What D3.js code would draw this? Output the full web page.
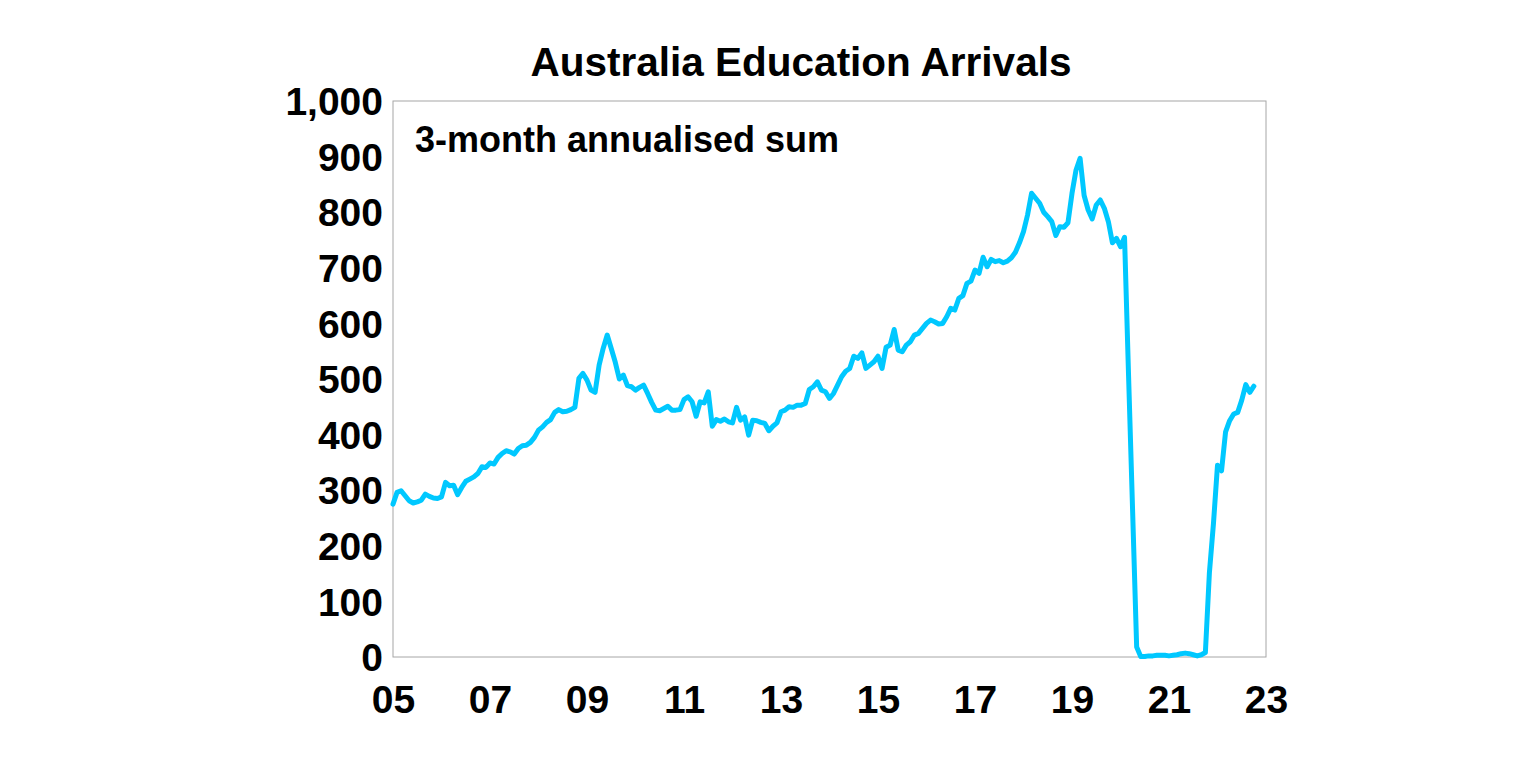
<!DOCTYPE html>
<html>
<head>
<meta charset="utf-8">
<script src="https://cdn.jsdelivr.net/npm/d3@7"></script>
<style>
  html, body { margin: 0; padding: 0; background: #ffffff; }
  svg { display: block; }
  text { font-family: "Liberation Sans", Arial, sans-serif; font-weight: bold; fill: #000; }
</style>
</head>
<body>
<svg id="chart" width="1536" height="775"></svg>
<script>
// ---- Data ----
const title = "Australia Education Arrivals";
const subtitle = "3-month annualised sum";
const startYear = 2005;            // first observation: Jan 2005 (monthly)
const arrivals = [
  275,296,299,290,281,277,279,282,293,289,286,285,288,314,308,309,292,305,316,320,
  324,330,342,341,349,347,359,366,371,369,365,375,380,381,386,395,408,
  414,422,427,440,445,441,442,445,449,501,510,498,480,476,525,555,579,555,530,500,
  507,488,486,480,485,489,474,458,444,443,447,451,444,444,445,463,
  468,459,433,459,457,477,415,427,424,428,423,421,449,426,432,399,426,425,422,420,
  407,415,421,441,444,450,449,453,453,456,481,486,495,480,477,465,474,
  489,504,514,519,541,537,547,519,525,531,541,519,557,561,589,552,549,561,567,579,
  582,591,600,606,603,599,600,612,627,624,645,
  650,672,676,696,690,719,702,715,711,713,709,712,718,728,745,765,795,834,825,816,
  800,792,783,758,774,773,781,834,876,897,830,804,788,813,822,807,783,745,753,738,755,
  505,262,18,1,1,2,2,3,3,3,2,3,4,6,7,6,4,2,4,8,
  152,240,345,335,405,425,437,440,462,490,476,487
];
const yTicks = [0,100,200,300,400,500,600,700,800,900,1000];
const xTickYears = [2005,2007,2009,2011,2013,2015,2017,2019,2021,2023];

// ---- Layout ----
const L = 393, R = 1266, T = 101, B = 657;
const svg = d3.select("#chart");

const x = d3.scaleLinear().domain([startYear, 2023]).range([L, R]);
const y = d3.scaleLinear().domain([0, 1000]).range([B, T]);

const series = arrivals.map((v, i) => ({ t: startYear + i / 12, v }));

// frame
svg.append("rect")
  .attr("x", L).attr("y", T).attr("width", R - L).attr("height", B - T)
  .attr("fill", "none").attr("stroke", "#A6A6A6").attr("stroke-width", 1);

// y axis
const yAxis = d3.axisLeft(y).tickValues(yTicks).tickSize(0).tickPadding(10)
  .tickFormat(d3.format(","));
const gy = svg.append("g").attr("transform", `translate(${L},0)`).call(yAxis);
gy.select(".domain").remove();
gy.selectAll("text").style("font-size", "39px").attr("dy", "0.35em")
  .attr("font-family", "Liberation Sans, Arial, sans-serif").attr("font-weight", "bold").attr("fill", "#000");

// x axis
const xAxis = d3.axisBottom(x).tickValues(xTickYears).tickSize(0).tickPadding(28)
  .tickFormat(d => String(d % 100).padStart(2, "0"));
const gx = svg.append("g").attr("transform", `translate(0,${B})`).call(xAxis);
gx.select(".domain").remove();
gx.selectAll("text").style("font-size", "39px")
  .attr("font-family", "Liberation Sans, Arial, sans-serif").attr("font-weight", "bold").attr("fill", "#000");

// line
const line = d3.line().x(d => x(d.t)).y(d => y(d.v));
svg.append("path").datum(series)
  .attr("d", line)
  .attr("fill", "none")
  .attr("stroke", "#00C8FF")
  .attr("stroke-width", 5)
  .attr("stroke-linejoin", "round")
  .attr("stroke-linecap", "round");

// title
svg.append("text").attr("x", 801).attr("y", 76).attr("text-anchor", "middle")
  .style("font-size", "40.5px").text(title);

// subtitle
svg.append("text").attr("x", 415).attr("y", 152).attr("text-anchor", "start")
  .style("font-size", "36px").text(subtitle);
</script>
</body>
</html>
